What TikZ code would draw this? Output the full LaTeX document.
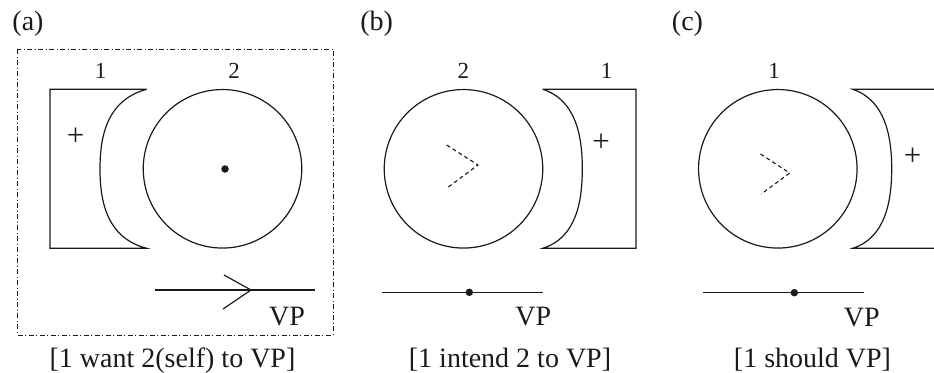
\documentclass[tikz,border=0pt]{standalone}
\usepackage{fontspec}
\setmainfont{Liberation Serif}
\usepackage{tikz}
\usetikzlibrary{arrows.meta,positioning,calc}
\definecolor{ink}{HTML}{1A1A1A}
\tikzset{
  rolecircle/.style={
    circle, draw=ink, line width=1.2pt,
    minimum size=158.5pt, inner sep=0pt
  },
  rolecup/.style={draw=ink, line width=1.2pt},
  rolenum/.style={
    font=\fontsize{23}{25}\selectfont, text=ink,
    anchor=base, inner sep=0pt
  },
  textlabel/.style={
    font=\fontsize{28}{30}\selectfont, text=ink,
    anchor=base, inner sep=0pt
  },
  plusmark/.style={font=\fontsize{31}{33}\selectfont, text=ink, inner sep=0pt},
  intentchev/.style={draw=ink, line width=1.1pt, dash pattern=on 4pt off 3pt},
  vpline/.style={draw=ink, line width=1.2pt},
  dotmark/.style={circle, fill=ink, inner sep=0pt, minimum size=7.5pt},
  framebox/.style={draw=ink, line width=0.9pt,
    dash pattern=on 5pt off 2.5pt on 1pt off 2.5pt},
}

\begin{document}
\begin{tikzpicture}[x=1pt,y=-1pt]
\useasboundingbox (0,0) rectangle (934,372);

% (a)
\node[textlabel] (taga) at (28,30) {(a)};
\draw[framebox] (17.3,49.3) rectangle (333,335);
\node[rolenum] (onea) at (100.5,78) {1};
\node[rolenum] (twoa) at (234,78) {2};
\draw[rolecup] (146.7,89.3) -- (50,89.3) -- (50,248.3) -- (146.7,248.3)
  .. controls (107,238) and (100,202) .. (100,168.8)
  .. controls (100,136) and (107,100) .. (146.7,89.3);
\node[plusmark] (plusa) at (75.7,137) {+};
\node[rolecircle] (selfa) at (222.5,168.8) {};
\node[dotmark] (dota) at (225,169) {};
\coordinate (vpa1) at (155,290);
\coordinate (vpa2) at (315,290);
\coordinate (tipa) at (251,290);
\draw[vpline] (vpa1) -- (vpa2);
\draw[vpline] ($(tipa)+(-27,-15)$) -- (tipa) -- ($(tipa)+(-28,19)$);
\node[textlabel] (vpa) at (287,325) {VP};
\node[textlabel] (capa) at (172.5,367) {[1 want 2(self) to VP]};

% (b)
\node[textlabel] (tagb) at (376.7,30) {(b)};
\node[rolenum] (twob) at (463.3,78) {2};
\node[rolenum] (oneb) at (606.7,78) {1};
\node[rolecircle] (selfb) at (463.5,168.8) {};
\draw[intentchev] (446.7,145) -- (478,165) -- (447,188);
\draw[rolecup] (542.7,89.3) -- (636,89.3) -- (636,248.3) -- (542.7,248.3)
  .. controls (576,238) and (582.3,202) .. (582.3,168.8)
  .. controls (582.3,136) and (576,100) .. (542.7,89.3);
\node[plusmark] (plusb) at (601,143) {+};
\coordinate (vpb1) at (381.7,292.3);
\coordinate (vpb2) at (543.3,292.3);
\draw[vpline] (vpb1) -- (vpb2);
\node[dotmark] (dotb) at (469.3,292.3) {};
\node[textlabel] (vpb) at (533.3,325) {VP};
\node[textlabel] (capb) at (510,367) {[1 intend 2 to VP]};

% (c)
\node[textlabel] (tagc) at (687.5,30) {(c)};
\node[rolenum] (onec) at (774,78) {1};
\node[rolecircle] (selfc) at (777.8,168.8) {};
\draw[intentchev] (760.5,154) -- (789.7,173) -- (761.3,194);
\draw[rolecup] (934,89.3) -- (852.7,89.3)
  .. controls (885,100) and (891.7,136) .. (891.7,168.8)
  .. controls (891.7,202) and (885,238) .. (852.7,248.3) -- (934,248.3);
\node[plusmark] (plusc) at (912.7,156.7) {+};
\coordinate (vpc1) at (703.3,292.7);
\coordinate (vpc2) at (864.3,292.7);
\draw[vpline] (vpc1) -- (vpc2);
\node[dotmark] (dotc) at (794.3,292.7) {};
\node[textlabel] (vpc) at (861.7,326) {VP};
\node[textlabel] (capc) at (812.5,367) {[1 should VP]};

\end{tikzpicture}
\end{document}
